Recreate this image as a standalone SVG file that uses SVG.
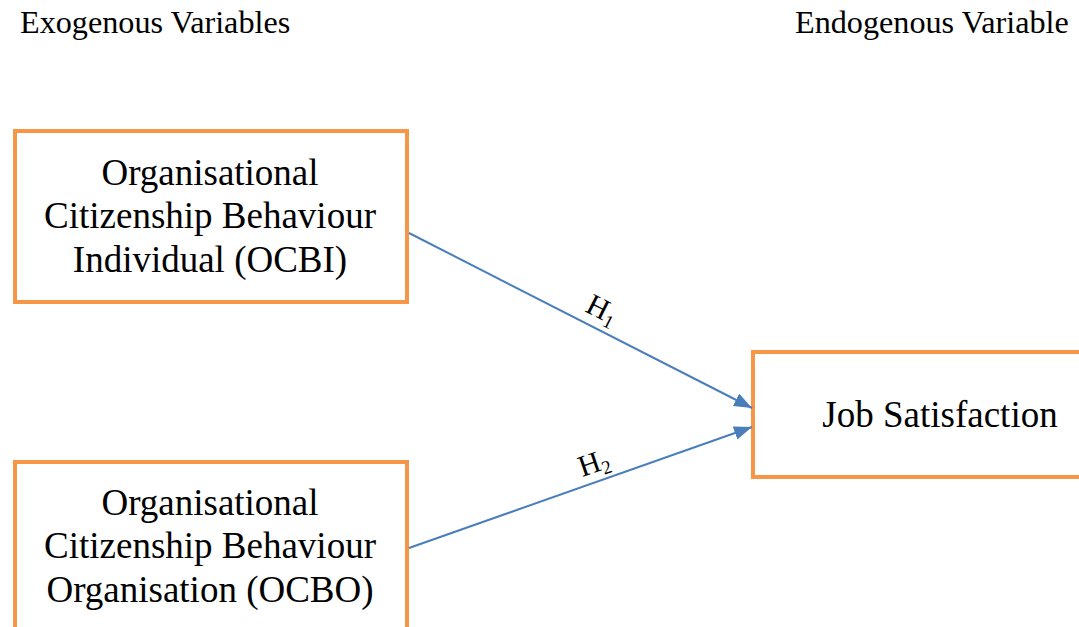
<svg xmlns="http://www.w3.org/2000/svg" width="1079" height="627" viewBox="0 0 1079 627">
<defs>
<style>
.box{fill:#fff;stroke:#F79646;stroke-width:4}
text{font-family:'Liberation Serif','DejaVu Serif',serif;fill:#000}
.bt{font-size:37px;text-anchor:middle}
.hd{font-size:32.2px}
.edge{stroke:#4a7ebb;stroke-width:2;fill:none}
.lbl{font-size:30px;text-anchor:middle}
</style>
<marker id="arr" markerWidth="9" markerHeight="7" refX="9" refY="3.5" orient="auto" markerUnits="strokeWidth">
<path d="M0,0 L9,3.5 L0,7 Z" fill="#4a7ebb"/>
</marker>
</defs>
<rect width="1079" height="627" fill="#fff"/>
<text class="hd" x="20" y="33">Exogenous Variables</text>
<text class="hd" x="795" y="33">Endogenous Variable</text>
<g id="ocbi">
<rect class="box" x="15" y="131" width="392" height="171"/>
<text class="bt" x="210" y="185">Organisational</text>
<text class="bt" x="210" y="228">Citizenship Behaviour</text>
<text class="bt" x="210" y="272">Individual (OCBI)</text>
</g>
<g id="ocbo">
<rect class="box" x="15" y="462" width="392" height="200"/>
<text class="bt" x="210" y="515">Organisational</text>
<text class="bt" x="210" y="558">Citizenship Behaviour</text>
<text class="bt" x="210" y="602">Organisation (OCBO)</text>
</g>
<g id="js">
<rect class="box" x="753" y="352" width="360" height="125"/>
<text class="bt" x="940" y="427">Job Satisfaction</text>
</g>
<g id="connectors">
<line class="edge" x1="409" y1="233" x2="752" y2="408" marker-end="url(#arr)"/>
<line class="edge" x1="409" y1="548" x2="752" y2="427" marker-end="url(#arr)"/>
<text class="lbl" transform="translate(598,318) rotate(27)">H<tspan font-size="19" dy="5">1</tspan></text>
<text class="lbl" transform="translate(597,472) rotate(-19)">H<tspan font-size="19" dy="5">2</tspan></text>
</g>
</svg>
